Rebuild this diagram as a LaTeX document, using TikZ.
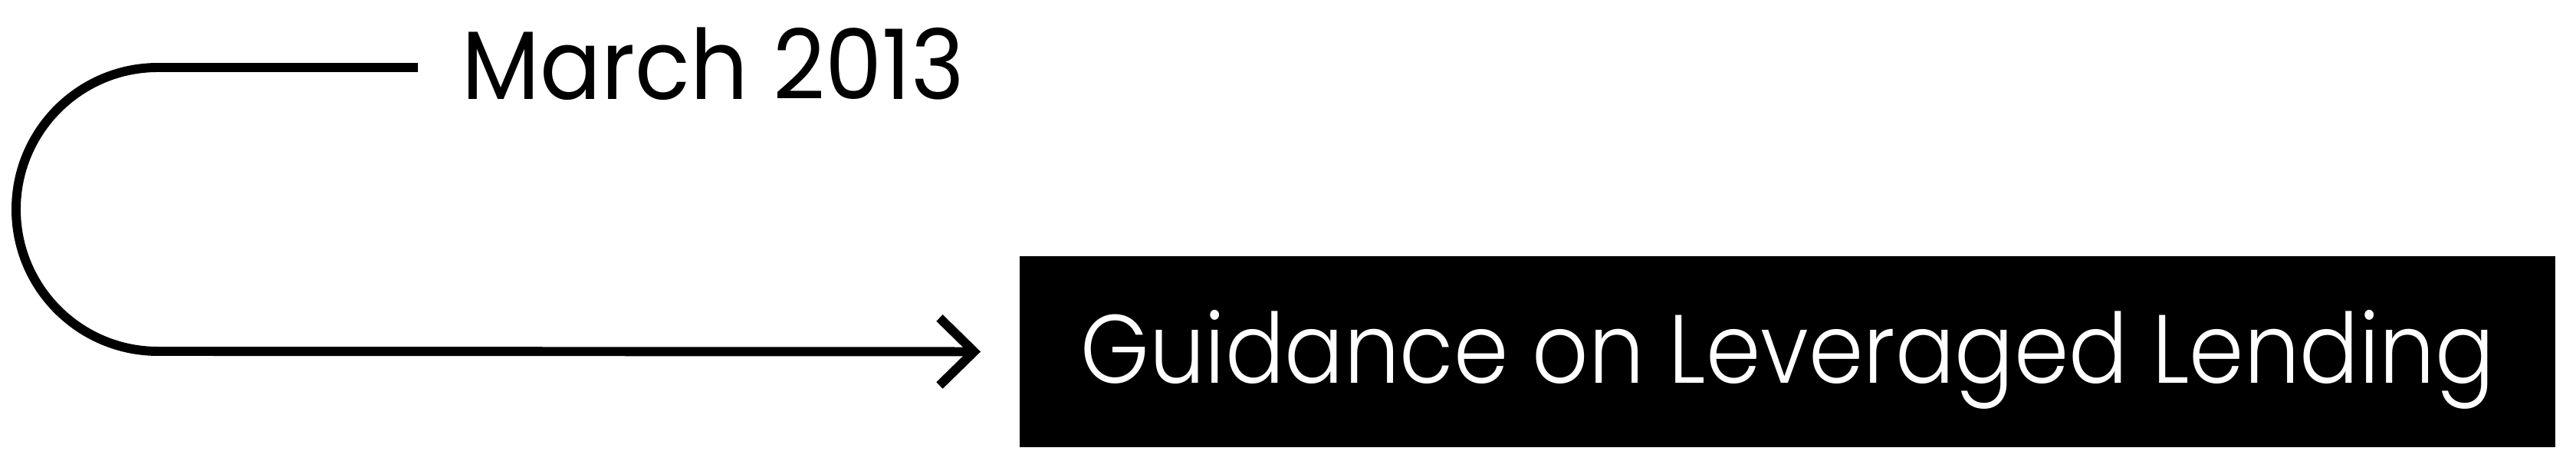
\documentclass[tikz,border=0pt]{standalone}
\usepackage{fontspec}
\setmainfont{Poppins}[FakeStretch=0.935]
\newfontfamily\lightfont{Poppins Light}[FakeStretch=0.907]
\usetikzlibrary{arrows.meta, positioning}

\begin{document}
\begin{tikzpicture}[line width=3.4pt]
\useasboundingbox (0,0) rectangle (33.6,6.01);
\node[fill=black, text=white, minimum width=20.03cm, minimum height=2.49cm, inner sep=0pt, text height=1.13cm, text depth=0.3cm, font=\lightfont\fontsize{36}{40}\selectfont] (guidance) at (23.315,1.425) {Guidance on Leveraged Lending};
\node[anchor=base west, inner sep=0pt, font=\fontsize{36}{40}\selectfont] (date) at (5.97,4.715) {March 2013};
\coordinate (start) at (5.45,5.13);

\draw[-{Straight Barb[length=4.5mm, width=8.8mm]}] (start) -- (2.06,5.13) arc[start angle=90, end angle=270, radius=1.85] -- ([xshift=-4.5mm]guidance.west);
\end{tikzpicture}
\end{document}
